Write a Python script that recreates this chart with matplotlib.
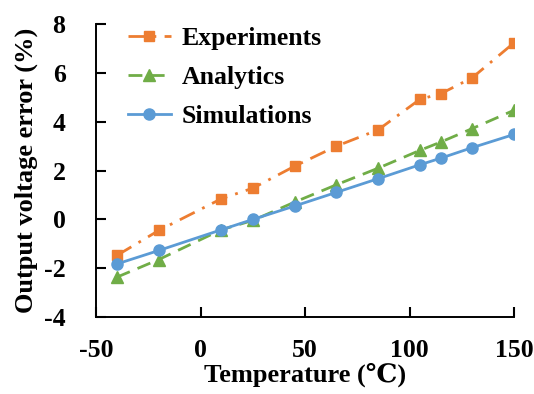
import numpy as np
import matplotlib
matplotlib.use("Agg")
import matplotlib.pyplot as plt

plt.rcParams['font.family'] = ['Liberation Serif', 'DejaVu Serif']
plt.rcParams['font.weight'] = 'bold'
plt.rcParams['axes.unicode_minus'] = False

temps = [-40, -20, 10, 25, 45, 65, 85, 105, 115, 130, 150]
experiments = [-1.47, -0.45, 0.85, 1.28, 2.18, 3.0, 3.67, 4.92, 5.15, 5.8, 7.23]
analytics = [-2.36, -1.64, -0.42, -0.04, 0.71, 1.42, 2.1, 2.83, 3.17, 3.72, 4.47]
simulations = [-1.82, -1.27, -0.42, 0.0, 0.55, 1.11, 1.67, 2.24, 2.51, 2.94, 3.48]

fig = plt.figure(figsize=(5.34, 3.94), dpi=100)
ax = fig.add_axes([0.18, 0.195, 0.7825, 0.744])

ax.plot(temps, experiments, color='#ED7D31', linestyle=(0, (6, 3, 1, 3)), lw=2,
        marker='s', markersize=7.5, label='Experiments')
ax.plot(temps, analytics, color='#70AD47', linestyle=(0, (5, 3)), lw=2,
        marker='^', markersize=8, label='Analytics')
ax.plot(temps, simulations, color='#5B9BD5', linestyle='-', lw=2,
        marker='o', markersize=8, label='Simulations')

ax.set_xlim(-50, 150)
ax.set_ylim(-4, 8)
ax.set_xticks([-50, 0, 50, 100, 150])
ax.set_yticks([-4, -2, 0, 2, 4, 6, 8])
ax.tick_params(direction='in', length=7, width=1.5, labelsize=18.5)
ax.tick_params(axis='y', pad=22)
ax.tick_params(axis='x', pad=16)
for lbl in ax.get_xticklabels() + ax.get_yticklabels():
    lbl.set_fontweight('bold')
ax.spines['top'].set_visible(False)
ax.spines['right'].set_visible(False)
ax.spines['left'].set_linewidth(1.4)
ax.spines['bottom'].set_linewidth(1.4)

ax.set_xlabel('Temperature (℃)', fontsize=19, fontweight='bold', labelpad=0)
ax.set_ylabel('Output voltage error (%)', fontsize=19, fontweight='bold', labelpad=4)

ax.legend(loc='upper left', frameon=False, fontsize=18.5, handlelength=1.7,
          handletextpad=0.4, bbox_to_anchor=(0.02, 1.07), labelspacing=0.62)

fig.savefig('out.png', dpi=100)
